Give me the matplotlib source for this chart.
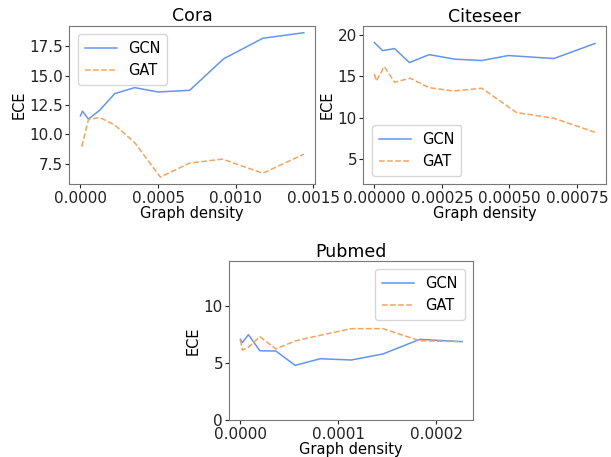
import matplotlib
matplotlib.use("Agg")
import matplotlib.pyplot as plt
from matplotlib.ticker import FormatStrFormatter

# Cora
cora_gcn_x = [0.0, 0.0000129, 0.0000515, 0.000124, 0.000221, 0.00035, 0.0005, 0.000704, 0.000923, 0.001176, 0.00144]
cora_gcn = [11.58, 11.98, 11.3, 12.06, 13.47, 13.98, 13.61, 13.75, 16.43, 18.18, 18.65]
cora_gat_x = [0.0000084, 0.0000515, 0.000124, 0.000221, 0.00035, 0.000515, 0.000704, 0.000915, 0.001176, 0.00144]
cora_gat = [8.96, 11.27, 11.44, 10.8, 9.3, 6.37, 7.56, 7.9, 6.7, 8.32]

# Citeseer
cite_gcn_x = [0.0, 0.0000307, 0.000075, 0.00013, 0.000203, 0.000299, 0.000398, 0.000496, 0.000665, 0.000817]
cite_gcn = [19.07, 18.1, 18.35, 16.66, 17.62, 17.07, 16.91, 17.51, 17.15, 18.96]
cite_gat_x = [0.0, 0.0000074, 0.000037, 0.000075, 0.000133, 0.000203, 0.000293, 0.000398, 0.000527, 0.000665, 0.000817]
cite_gat = [15.3, 14.45, 16.18, 14.3, 14.78, 13.64, 13.24, 13.57, 10.64, 9.96, 8.27]

# Pubmed
pub_x = [0.0, 0.000002, 0.0000082, 0.0000199, 0.0000362, 0.000056, 0.0000816, 0.0001133, 0.0001457, 0.0001833, 0.0002267]
pub_gcn = [7.1, 6.81, 7.51, 6.1, 6.08, 4.82, 5.4, 5.29, 5.82, 7.1, 6.9]
pub_gat = [7.05, 6.17, 6.4, 7.34, 6.26, 6.96, 7.46, 8.04, 8.04, 6.98, 6.9]

cora_xticks = [0.0, 0.0005, 0.0010, 0.0015]
cora_yticks = [7.5, 10.0, 12.5, 15.0, 17.5]
cite_xticks = [0.0, 0.00025, 0.0005, 0.00075]
cite_yticks = [5, 10, 15, 20]
pub_xticks = [0.0, 0.0001, 0.0002]
pub_yticks = [0, 5, 10]

gcn_color = "cornflowerblue"
gat_color = "sandybrown"

fig = plt.figure(figsize=(6.11, 4.57), dpi=100)

panels = [
    ("Cora", [0.1134, 0.5967, 0.4021, 0.3475], cora_gcn_x, cora_gcn, cora_gat_x, cora_gat,
     "upper left", None, cora_xticks, cora_yticks, "%.4f", "%.1f"),
    ("Citeseer", [0.5946, 0.5967, 0.3972, 0.347], cite_gcn_x, cite_gcn, cite_gat_x, cite_gat,
     "lower left", (2.0, 21.1), cite_xticks, cite_yticks, "%.5f", "%d"),
    ("Pubmed", [0.3753, 0.0803, 0.3993, 0.3492], pub_x, pub_gcn, pub_x, pub_gat,
     "upper right", (0, 14), pub_xticks, pub_yticks, "%.4f", "%d"),
]

for title, pos, gx, gy, ax_, ay, loc, ylim, xt, yt, xfmt, yfmt in panels:
    ax = fig.add_axes(pos)
    ax.plot(gx, gy, color=gcn_color, lw=1.1, label="GCN")
    ax.plot(ax_, ay, color=gat_color, lw=1.1, linestyle="--", label="GAT")
    xl = ax.get_xlim()
    yl = ax.get_ylim() if ylim is None else ylim
    ax.set_xticks(xt)
    ax.set_yticks(yt)
    ax.set_xlim(xl)
    ax.set_ylim(yl)
    ax.xaxis.set_major_formatter(FormatStrFormatter(xfmt))
    ax.yaxis.set_major_formatter(FormatStrFormatter(yfmt))
    ax.set_title(title, fontsize=12.5, pad=3)
    ax.set_xlabel("Graph density", fontsize=10.5, labelpad=0)
    ax.set_ylabel("ECE", fontsize=10.5, labelpad=2)
    ax.tick_params(labelsize=11, length=3, pad=1.5, colors="#222222")
    for s in ax.spines.values():
        s.set_color("#777777")
    ax.legend(loc=loc, fontsize=10.5, borderpad=0.45, labelspacing=0.5,
              handlelength=2.2, borderaxespad=0.6)

fig.savefig("out.png", dpi=100)
